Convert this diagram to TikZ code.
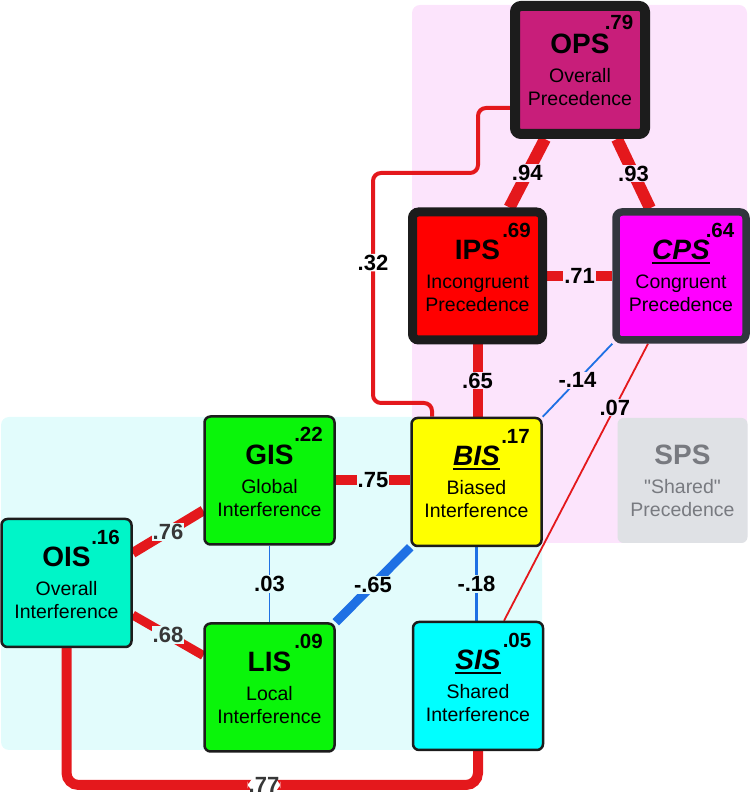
\documentclass[tikz,border=0pt]{standalone}
\usepackage{fontspec}
\setmainfont{Liberation Sans}[Ligatures=TeXOff]
\usetikzlibrary{positioning}

\pgfdeclarelayer{bg}
\pgfsetlayers{bg,main}

\definecolor{linkred}{RGB}{228,24,28}
\definecolor{linkblue}{RGB}{30,112,228}
\definecolor{pinkbg}{RGB}{252,228,252}
\definecolor{cyanbg}{RGB}{226,252,252}
\definecolor{opsfill}{RGB}{200,30,122}
\definecolor{ipsfill}{RGB}{255,0,0}
\definecolor{cpsfill}{RGB}{255,0,255}
\definecolor{bisfill}{RGB}{255,255,0}
\definecolor{isgreen}{RGB}{10,245,10}
\definecolor{oisfill}{RGB}{0,245,200}
\definecolor{sisfill}{RGB}{0,255,255}
\definecolor{spsfill}{RGB}{223,225,229}
\definecolor{spstext}{RGB}{120,122,128}
\definecolor{boxline}{RGB}{28,28,28}
\definecolor{cpsline}{RGB}{50,54,62}
\definecolor{lblgray}{RGB}{55,55,55}

\newsavebox{\ulsave}
\newcommand{\ulit}[1]{\sbox{\ulsave}{\itshape #1}\rlap{\rule[-4.5pt]{\wd\ulsave}{2.5pt}}\usebox{\ulsave}}
\newcommand{\ttl}[1]{{\fontsize{28}{30}\selectfont\bfseries #1}}

\begin{document}
\begin{tikzpicture}[x=1pt, y=1pt,
  box/.style={draw=boxline, line width=2.5pt, rounded corners=6pt,
    minimum width=130pt, minimum height=128pt, inner sep=0pt,
    align=center, font=\fontsize{19.5}{23}\selectfont},
  rsq/.style={font=\fontsize{20.5}{20.5}\selectfont\bfseries, inner sep=0pt},
  lbl/.style={font=\fontsize{22}{22}\selectfont\bfseries, inner sep=1pt},
  rlink/.style={draw=linkred, line width=#1},
  blink/.style={draw=linkblue, line width=#1}]
  \useasboundingbox (0,0) rectangle (750,796);

  % Shaded groups
  \begin{pgfonlayer}{bg}
    \fill[cyanbg, rounded corners=8pt] (1,46) rectangle (542,379);
    \fill[pinkbg, rounded corners=8pt] (412,253) rectangle (747,791);
  \end{pgfonlayer}

  % Precedence boxes
  \node[box, fill=opsfill, line width=10pt] (ops) at (580,726) {\ttl{OPS}\\[6pt]Overall\\Precedence};
  \node[box, fill=ipsfill, line width=9pt] (ips) at (477.5,520) {\ttl{IPS}\\[6pt]Incongruent\\Precedence};
  \node[box, fill=cpsfill, draw=cpsline, line width=7.5pt] (cps) at (681,520) {\ttl{\ulit{CPS}}\\[6pt]Congruent\\Precedence};
  \node[box, draw=none, fill=spsfill, text=spstext, minimum height=125pt] (sps) at (682.5,315.5) {\ttl{SPS}\\[6pt]"Shared"\\Precedence};

  % Interference boxes
  \node[box, fill=bisfill] (bis) at (476.5,314) {\ttl{\ulit{BIS}}\\[6pt]Biased\\Interference};
  \node[box, fill=isgreen] (gis) at (269.5,315.5) {\ttl{GIS}\\[6pt]Global\\Interference};
  \node[box, fill=oisfill] (ois) at (66.5,213) {\ttl{OIS}\\[6pt]Overall\\Interference};
  \node[box, fill=isgreen] (lis) at (269.5,108.5) {\ttl{LIS}\\[6pt]Local\\Interference};
  \node[box, fill=sisfill] (sis) at (478,110) {\ttl{\ulit{SIS}}\\[6pt]Shared\\Interference};

  % R squared
  \node[rsq] (ops-r) at ([shift={(39,48)}]ops.center) {.79};
  \node[rsq] (ips-r) at ([shift={(39,46)}]ips.center) {.69};
  \node[rsq] (cps-r) at ([shift={(39,46)}]cps.center) {.64};
  \node[rsq] (bis-r) at ([shift={(39,46)}]bis.center) {.17};
  \node[rsq] (gis-r) at ([shift={(39,46)}]gis.center) {.22};
  \node[rsq] (ois-r) at ([shift={(39,46)}]ois.center) {.16};
  \node[rsq] (lis-r) at ([shift={(39,46)}]lis.center) {.09};
  \node[rsq] (sis-r) at ([shift={(39,46)}]sis.center) {.05};

  % Correlations
  \begin{pgfonlayer}{bg}
    \draw[rlink=12pt] ([xshift=-35]ops.south) -- ([xshift=32]ips.north)
      node[lbl, fill=pinkbg, midway] {.94};
    \draw[rlink=12pt] ([xshift=37]ops.south) -- ([xshift=-31]cps.north)
      node[lbl, fill=pinkbg, midway] {.93};
    \draw[rlink=10pt] (ips.east) -- (cps.west)
      node[lbl, fill=pinkbg, midway] {.71};
    \draw[rlink=10pt] (ips.south) -- (ips.south |- bis.north)
      node[lbl, fill=pinkbg, midway] {.65};
    \draw[blink=1.8pt] (cps.south west) -- (bis.north east)
      node[lbl, fill=pinkbg, midway] {-.14};
    \draw[rlink=1.8pt] ([xshift=-33]cps.south) -- ([xshift=26]sis.north)
      node[lbl, fill=pinkbg, pos=0.23] {.07};
    \draw[rlink=4pt, rounded corners=8pt] ([yshift=-38]ops.west) -| (478,623)
      -- (373,623) -- node[lbl, fill=white, pos=0.39] {.32} (373,393)
      -| ([xshift=-44.5]bis.north);

    \draw[rlink=10pt] (gis.east) -- (gis.east -| bis.west)
      node[lbl, fill=cyanbg, midway] {.75};
    \draw[rlink=10pt] ([yshift=30]ois.east) -- ([yshift=-30]gis.west)
      node[lbl, fill=cyanbg, text=lblgray, midway] {.76};
    \draw[rlink=9pt] ([yshift=-32]ois.east) -- ([yshift=32]lis.west)
      node[lbl, fill=cyanbg, text=lblgray, midway] {.68};
    \draw[blink=1.8pt] (gis.south) -- (lis.north)
      node[lbl, fill=cyanbg, midway] {.03};
    \draw[blink=9pt] (bis.south west) -- (lis.north east)
      node[lbl, fill=cyanbg, midway] {-.65};
    \draw[blink=2.2pt] (bis.south) -- (bis.south |- sis.north)
      node[lbl, fill=cyanbg, midway] {-.18};
    \draw[rlink=10pt, rounded corners=12pt] (ois.south) |- (264,11)
      node[lbl, fill=white, text=lblgray] {.77} -| (sis.south);
  \end{pgfonlayer}
\end{tikzpicture}
\end{document}
